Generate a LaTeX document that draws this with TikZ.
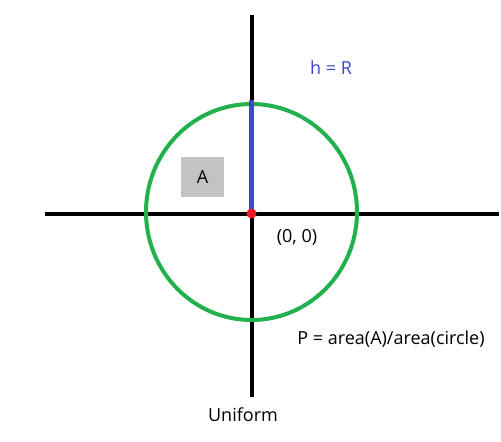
\documentclass[tikz,border=0pt]{standalone}
\usepackage{fontspec}
\setmainfont{Open Sans}
\usetikzlibrary{positioning}
\definecolor{paintgreen}{RGB}{34,177,76}
\definecolor{paintblue}{RGB}{63,72,204}
\definecolor{paintred}{RGB}{237,28,36}
\definecolor{paintgray}{RGB}{195,195,195}
\begin{document}
\begin{tikzpicture}[x=1pt, y=-1pt, axis/.style={line width=4pt, black}, txt/.style={font=\fontsize{18}{21}\selectfont, inner sep=0pt}]
\useasboundingbox (0,0) rectangle (501,442);

\coordinate (O) at (251.5,213.5);
\coordinate (C) at (251.5,212);
\coordinate (west) at (45,213.5);
\coordinate (east) at (499,213.5);
\coordinate (north) at (251.5,15);
\coordinate (south) at (251.5,397);
\coordinate (top) at (251.5,100);

\draw[axis] (west) -- (east);
\draw[axis] (north) -- (south);
\draw[paintgreen, line width=4pt] (C) ellipse [x radius=105.5pt, y radius=108pt];
\draw[paintblue, line width=5pt] (O) -- (top);
\fill[paintred] (O) circle (5pt);

\node[txt, fill=paintgray, minimum width=43pt, minimum height=40pt] (A) at (202.5,177) {A};
\node[txt, text=paintblue] (h) at (331,68) {h = R};
\node[txt] (origin) at (297,237) {(0, 0)};
\node[txt] (P) at (391,339) {P = area(A)/area(circle)};
\node[txt] (uniform) at (243,415) {Uniform};
\end{tikzpicture}
\end{document}
